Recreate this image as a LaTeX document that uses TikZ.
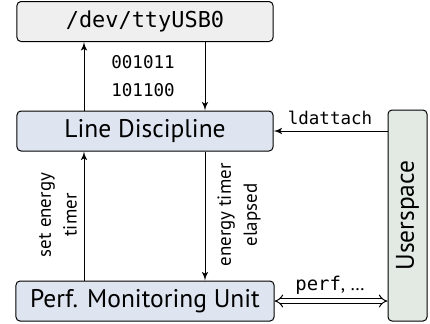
\documentclass[tikz,border=0pt]{standalone}
\usepackage{fontspec}
\setmainfont{PT Sans}
\setmonofont{DejaVu Sans Mono}
\usetikzlibrary{arrows,positioning,calc}

\definecolor{ttyfill}{HTML}{EFEFEF}
\definecolor{kernfill}{HTML}{DEE5F0}
\definecolor{userfill}{HTML}{E2EAE3}

\tikzset{
  block/.style={draw,rounded corners=2bp,minimum width=128bp,minimum height=20bp,
    inner sep=0pt,font=\fontsize{12.8}{14}\selectfont},
  lbl/.style={font=\fontsize{9.5}{13}\selectfont,align=center,inner sep=1bp},
}

\begin{document}
\begin{tikzpicture}[>=latex',x=0.5bp,y=-0.5bp,line join=bevel]
\useasboundingbox (0,0) rectangle (430,323);
\pgfsetlinewidth{0.5bp}
% blocks
\node[block,fill=ttyfill,font=\ttfamily\fontsize{11}{12}\selectfont] (tty) at (145,21.5) {/dev/ttyUSB0};
\node[block,fill=kernfill] (ld) at (145,131) {Line Discipline};
\node[block,fill=kernfill,minimum width=129bp] (pmu) at (145,301) {Perf. Monitoring Unit};
\node[block,fill=userfill,rotate=90,minimum width=105.5bp,minimum height=19.5bp] (user) at (407.5,215.5) {Userspace};
% tty <-> line discipline
\draw[->] ([xshift=-30.5bp]ld.north) -- ([xshift=-30.5bp]tty.south);
\draw[->] ([xshift=30bp]tty.south) -- ([xshift=30bp]ld.north);
\node[lbl,font=\ttfamily\fontsize{8.8}{14}\selectfont] (bits) at (143,76) {001011\\101100};
% line discipline <-> pmu
\draw[->] ([xshift=-30.5bp]pmu.north) -- ([xshift=-30.5bp]ld.south);
\draw[->] ([xshift=30bp]ld.south) -- ([xshift=30bp]pmu.north);
\node[lbl,rotate=90] (set) at (58,215) {set energy\\timer};
\node[lbl,rotate=90] (elapsed) at (239,215) {energy timer\\elapsed};
% userspace
\coordinate (ldin) at (user.north |- ld.east);
\draw[->] (ldin) -- (ld.east);
\node[lbl,font=\ttfamily\fontsize{8.8}{12}\selectfont] (attach) at (330,118) {ldattach};
\coordinate (pmuin) at (user.north |- pmu.east);
\draw[implies-implies,double equal sign distance] (pmu.east) -- (pmuin);
\node[lbl] (perf) at (330,285) {\texttt{perf}, \dots};
\end{tikzpicture}
\end{document}
